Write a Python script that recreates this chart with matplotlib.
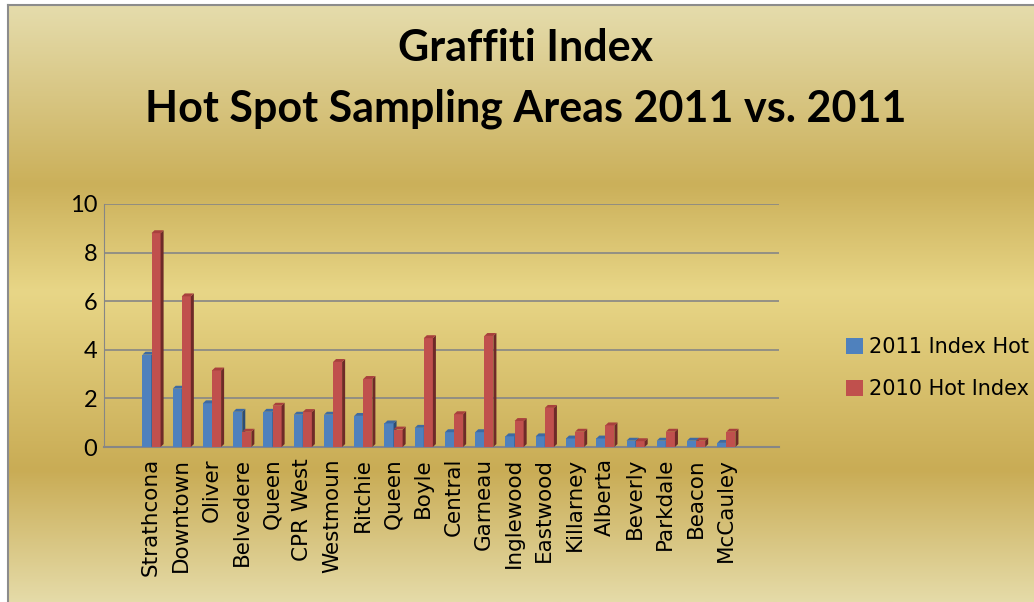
import numpy as np
import matplotlib.pyplot as plt
from matplotlib.colors import LinearSegmentedColormap
from matplotlib.patches import Polygon, Patch

# Data
areas = ['Strathcona', 'Downtown', 'Oliver', 'Belvedere', 'Queen', 'CPR West',
         'Westmoun', 'Ritchie', 'Queen', 'Boyle', 'Central', 'Garneau',
         'Inglewood', 'Eastwood', 'Killarney', 'Alberta', 'Beverly',
         'Parkdale', 'Beacon', 'McCauley']
index_2011 = [3.8, 2.4, 1.8, 1.45, 1.45, 1.33, 1.33, 1.28, 0.97, 0.79, 0.61,
              0.61, 0.44, 0.44, 0.35, 0.35, 0.26, 0.26, 0.26, 0.17]
index_2010 = [8.8, 6.2, 3.15, 0.63, 1.7, 1.44, 3.5, 2.8, 0.72, 4.48, 1.35,
              4.57, 1.07, 1.61, 0.63, 0.89, 0.24, 0.63, 0.26, 0.63]
series_names = ['2011 Index Hot', '2010 Hot Index']

W, H = 1034, 602
fig = plt.figure(figsize=(W / 100, H / 100), dpi=100)
fig.patch.set_facecolor('white')

# gold gradient background of the chart area
bg = fig.add_axes([8 / W, 0, 1 - 8 / W, 1 - 5 / H])
stops = [(0.0, (229, 220, 172)), (0.30, (203, 176, 90)), (0.48, (232, 214, 135)),
         (0.78, (201, 172, 85)), (1.0, (229, 219, 168))]
gold = LinearSegmentedColormap.from_list(
    'gold', [(p, tuple(c / 255 for c in rgb)) for p, rgb in stops])
bg.imshow(np.linspace(0, 1, 256).reshape(-1, 1), aspect='auto', cmap=gold,
          extent=[0, 1, 0, 1], origin='upper')
bg.set_xticks([])
bg.set_yticks([])
for side in ['right', 'bottom']:
    bg.spines[side].set_visible(False)
for side in ['left', 'top']:
    bg.spines[side].set_color('#8c8c8c')
    bg.spines[side].set_linewidth(1.5)

# main plot
ax = fig.add_axes([104 / W, (H - 447) / H, (779 - 104) / W, (447 - 204) / H])
ax.patch.set_alpha(0)
x = np.arange(1, len(areas) + 1)
width = 0.3
d, dy = 0.1, 0.12
series = [
    (x - 0.13, index_2011, '#4f81bd', '#2c4d75', '#3d6aa3'),
    (x + 0.17, index_2010, '#c0504d', '#6e2a28', '#a8403d'),
]
for xs, vals, face, sidec, topc in series:
    ax.bar(xs, vals, width=width, color=face, zorder=3)
    for xc, v in zip(xs, vals):
        x0, x1 = xc - width / 2, xc + width / 2
        ax.add_patch(Polygon([(x1, 0), (x1 + d, dy), (x1 + d, v + dy), (x1, v)],
                             closed=True, facecolor=sidec, edgecolor='none', zorder=3))
        ax.add_patch(Polygon([(x0, v), (x0 + d, v + dy), (x1 + d, v + dy), (x1, v)],
                             closed=True, facecolor=topc, edgecolor='none', zorder=3))

ax.set_xlim(-0.55, 21.76)
ax.set_ylim(0, 10)
ax.set_yticks(np.arange(0, 11, 2))
ax.yaxis.grid(True, color='#868686', linewidth=1.2)
ax.set_axisbelow(True)
ax.tick_params(axis='y', length=0, pad=5, labelsize=17)
for lab in ax.get_yticklabels():
    lab.set_fontfamily('Lato')
ax.set_xticks(x)
ax.set_xticklabels(areas, rotation=90, fontsize=15.5, fontfamily='DejaVu Sans')
ax.tick_params(axis='x', length=0, pad=8)
for side in ['top', 'right']:
    ax.spines[side].set_visible(False)
ax.spines['left'].set_color('#868686')
ax.spines['bottom'].set_color('#868686')
ax.spines['bottom'].set_linewidth(1.5)

# titles
fig.text(0.508, 1 - 48 / H, 'Graffiti Index', ha='center', va='center',
         fontsize=31, fontweight='bold', fontfamily='Lato')
fig.text(0.508, 1 - 109 / H, 'Hot Spot Sampling Areas 2011 vs. 2011', ha='center',
         va='center', fontsize=31, fontweight='bold', fontfamily='Lato')

handles = [Patch(facecolor='#4f81bd'), Patch(facecolor='#c0504d')]
fig.legend(handles, series_names, loc='upper left',
           bbox_to_anchor=(846 / W, 1 - 337 / H), frameon=False,
           prop={'family': 'DejaVu Sans', 'size': 15},
           handlelength=0.8, handleheight=0.8, handletextpad=0.3,
           labelspacing=1.05, borderpad=0, borderaxespad=0)

fig.savefig('out.png', dpi=100)
